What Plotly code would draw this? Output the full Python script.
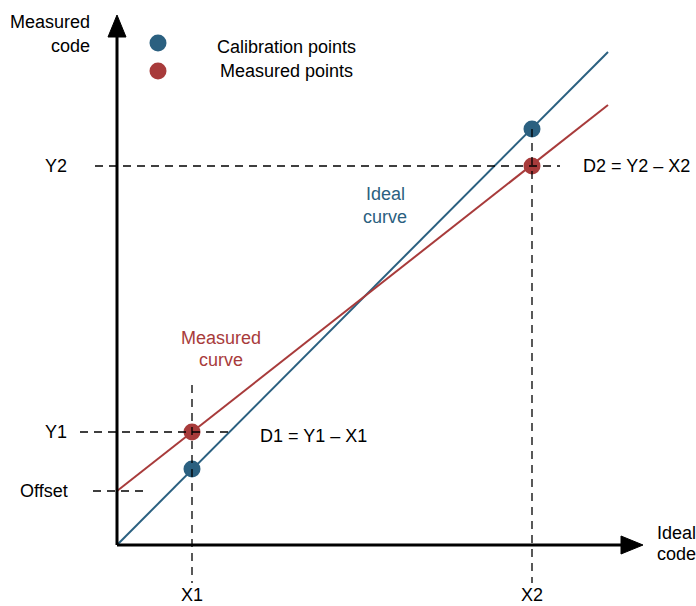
import plotly.graph_objects as go

# values in "code" units (origin of the axes = 0,0)
x_points = [75, 415]          # X1, X2
ideal_points = [76, 416]      # calibration points on ideal curve
measured_points = [113, 379]  # Y1, Y2
offset = 54
ideal_x = [0, 491]
ideal_y = [0, 493]
meas_x = [0, 491]
meas_y = [54, 440]
x_labels = ["X1", "X2"]
y_labels = ["Y1", "Y2"]

BLUE = "#2B6080"
RED = "#A83B3B"
FONT = "Liberation Sans, Arial, sans-serif"

fig = go.Figure()

## curves
fig.add_trace(go.Scatter(x=ideal_x, y=ideal_y, mode="lines",
                         line=dict(color=BLUE, width=2), hoverinfo="skip"))
fig.add_trace(go.Scatter(x=meas_x, y=meas_y, mode="lines",
                         line=dict(color=RED, width=2), hoverinfo="skip"))

## dashed guide lines
dash = dict(color="black", width=1.3, dash="8px,6px")
fig.add_shape(type="line", x0=-22, x1=443, y0=measured_points[1], y1=measured_points[1], line=dash)
fig.add_shape(type="line", x0=-37, x1=115, y0=measured_points[0], y1=measured_points[0], line=dash)
fig.add_shape(type="line", x0=-24, x1=31, y0=offset, y1=offset, line=dash)
fig.add_shape(type="line", x0=x_points[0], x1=x_points[0], y0=160, y1=-38, line=dash)
fig.add_shape(type="line", x0=x_points[1], x1=x_points[1], y0=ideal_points[1], y1=-38, line=dash)

## axes with arrows
fig.add_shape(type="line", x0=0, x1=0, y0=0, y1=510, line=dict(color="black", width=3))
fig.add_shape(type="line", x0=0, x1=505, y0=0, y1=0, line=dict(color="black", width=3))
fig.add_shape(type="path", path="M -9,508 L 9,508 L 0,530 Z",
              fillcolor="black", line=dict(color="black", width=1))
fig.add_shape(type="path", path="M 504,-9 L 504,9 L 526,0 Z",
              fillcolor="black", line=dict(color="black", width=1))

## points
fig.add_trace(go.Scatter(x=x_points, y=ideal_points, mode="markers",
                         marker=dict(color=BLUE, size=17), hoverinfo="skip"))
fig.add_trace(go.Scatter(x=x_points, y=measured_points, mode="markers",
                         marker=dict(color=RED, size=17), hoverinfo="skip"))

## legend
fig.add_trace(go.Scatter(x=[41, 41], y=[502, 474], mode="markers",
                         marker=dict(color=[BLUE, RED], size=17), hoverinfo="skip"))

def txt(x, y, s, color="black", xanchor="center"):
    fig.add_annotation(x=x, y=y, text=s, showarrow=False, xanchor=xanchor, yanchor="middle",
                       font=dict(family=FONT, size=18, color=color))

txt(169, 498, "Calibration points")
txt(169, 474, "Measured points")
txt(-25, 523, "Measured", xanchor="right")
txt(-25, 499, "code", xanchor="right")
txt(538, 12, "Ideal", xanchor="left")
txt(538, -9, "code", xanchor="left")
txt(-48, measured_points[1], y_labels[1], xanchor="right")
txt(-48, measured_points[0], y_labels[0], xanchor="right")
txt(-47, offset, "Offset", xanchor="right")
txt(x_points[0], -50, x_labels[0])
txt(x_points[1], -50, x_labels[1])
txt(268, 351, "Ideal", color=BLUE)
txt(268, 328, "curve", color=BLUE)
txt(104, 207, "Measured", color=RED)
txt(104, 185, "curve", color=RED)
txt(141, 109, "D1 = Y1 \u2013 X1", xanchor="left")
txt(464, measured_points[1], "D2 = Y2 \u2013 X2", xanchor="left")

fig.update_layout(
    width=696, height=606,
    margin=dict(l=0, r=0, t=0, b=0),
    paper_bgcolor="white", plot_bgcolor="white",
    showlegend=False,
    xaxis=dict(range=[-117, 579], visible=False),
    yaxis=dict(range=[-61, 545], visible=False),
)

fig.write_html("out.html", config={"displayModeBar": False},
               post_script="document.body.style.margin='0';")
